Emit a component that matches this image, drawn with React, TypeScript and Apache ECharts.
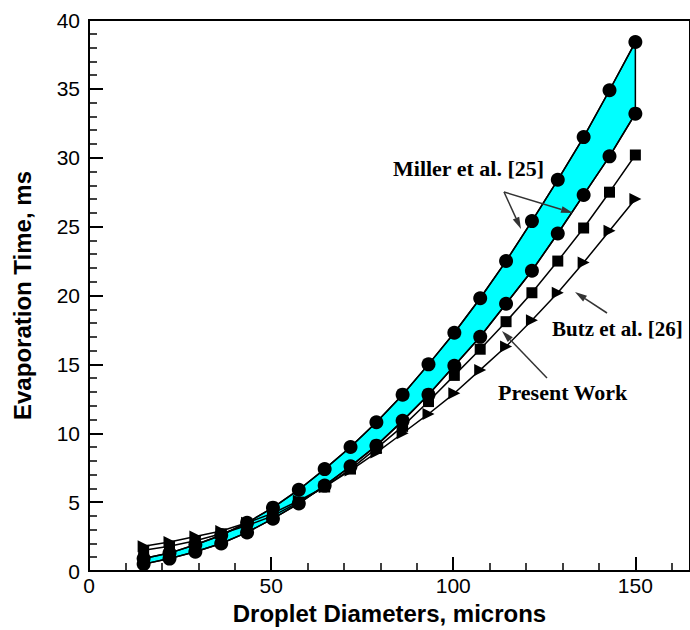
import React, { useEffect, useRef } from "react";
import * as echarts from "echarts";

// Droplet diameters (microns)
const DIAM = [15, 22.1, 29.2, 36.3, 43.4, 50.5, 57.6, 64.7, 71.8, 78.9, 86.1, 93.2, 100.3, 107.4, 114.5, 121.6, 128.7, 135.8, 142.9, 150];
// Evaporation times (ms)
const MILLER_UPPER = [0.9, 1.3, 1.9, 2.6, 3.5, 4.6, 5.9, 7.4, 9.0, 10.8, 12.8, 15.0, 17.3, 19.8, 22.5, 25.4, 28.4, 31.5, 34.9, 38.4];
const MILLER_LOWER = [0.5, 0.9, 1.4, 2.0, 2.8, 3.8, 4.9, 6.2, 7.6, 9.1, 10.9, 12.8, 14.9, 17.0, 19.4, 21.8, 24.5, 27.3, 30.1, 33.2];
const PRESENT_WORK = [1.5, 1.8, 2.2, 2.7, 3.3, 4.0, 5.0, 6.1, 7.4, 8.9, 10.5, 12.3, 14.2, 16.1, 18.1, 20.2, 22.5, 24.9, 27.5, 30.2];
const BUTZ = [1.8, 2.1, 2.5, 2.9, 3.5, 4.2, 5.1, 6.1, 7.3, 8.6, 10.0, 11.4, 12.9, 14.6, 16.3, 18.2, 20.2, 22.4, 24.7, 27.0];

const X_TITLE = "Droplet Diameters, microns";
const Y_TITLE = "Evaporation Time, ms";
const LABEL_MILLER = "Miller et al. [25]";
const LABEL_BUTZ = "Butz et al. [26]";
const LABEL_PRESENT = "Present Work";

const SANS = '"Liberation Sans", Arial, sans-serif';
const SERIF = '"Liberation Serif", "Times New Roman", serif';

function arrow(x1: number, y1: number, x2: number, y2: number) {
  const dx = x2 - x1;
  const dy = y2 - y1;
  const len = Math.sqrt(dx * dx + dy * dy);
  const ux = dx / len;
  const uy = dy / len;
  const hl = 12;
  const hw = 3.5;
  const bx = x2 - ux * hl;
  const by = y2 - uy * hl;
  return [
    {
      type: "line",
      shape: { x1, y1, x2: bx, y2: by },
      style: { stroke: "#333", lineWidth: 1.5 },
      z: 10,
    },
    {
      type: "polygon",
      shape: {
        points: [
          [x2, y2],
          [bx - uy * hw, by + ux * hw],
          [bx + uy * hw, by - ux * hw],
        ],
      },
      style: { fill: "#333" },
      z: 10,
    },
  ];
}

function label(text: string, x: number, y: number, size = 22) {
  return {
    type: "text",
    x,
    y,
    z: 10,
    style: {
      text,
      font: `bold ${size}px ${SERIF}`,
      fill: "#000",
      textAlign: "left",
      textVerticalAlign: "middle",
    },
  };
}

function lineSeries(name: string, values: number[], symbol: string, size: number, rotate = 0) {
  return {
    type: "line",
    name,
    data: DIAM.map((d, i) => [d, values[i]]),
    symbol,
    symbolSize: size,
    symbolRotate: rotate,
    showAllSymbol: true,
    itemStyle: { color: "#000" },
    lineStyle: { color: "#000", width: 1.5 },
    z: 3,
  };
}

export default function App() {
  const ref = useRef<HTMLDivElement>(null);

  useEffect(() => {
    document.body.style.margin = "0";
    const chart = echarts.init(ref.current!, null, { renderer: "svg" });
    const option: any = {
      animation: false,
      backgroundColor: "#fff",
      grid: {
        left: 89,
        top: 20,
        right: -2,
        bottom: 58,
        show: true,
        borderColor: "#000",
        borderWidth: 2,
        backgroundColor: "transparent",
      },
      xAxis: {
        type: "value",
        min: 0,
        max: 165,
        interval: 50,
        name: X_TITLE,
        nameLocation: "middle",
        nameGap: 30,
        nameTextStyle: { fontFamily: SANS, fontWeight: "bold", fontSize: 24, color: "#000" },
        axisLine: { show: true, lineStyle: { color: "#000", width: 2 } },
        axisTick: { show: true, inside: true, length: 14, lineStyle: { color: "#000", width: 2 } },
        minorTick: { show: true, splitNumber: 5, length: 8, lineStyle: { color: "#000", width: 1.5 } },
        axisLabel: { fontFamily: SANS, fontSize: 21, color: "#000", margin: 4, showMaxLabel: false },
        splitLine: { show: false },
      },
      yAxis: {
        type: "value",
        min: 0,
        max: 40,
        interval: 5,
        name: Y_TITLE,
        nameLocation: "middle",
        nameGap: 55,
        nameTextStyle: { fontFamily: SANS, fontWeight: "bold", fontSize: 24, color: "#000" },
        axisLine: { show: true, lineStyle: { color: "#000", width: 2 } },
        axisTick: { show: true, inside: true, length: 14, lineStyle: { color: "#000", width: 2 } },
        minorTick: { show: true, splitNumber: 5, length: 8, lineStyle: { color: "#000", width: 1.5 } },
        axisLabel: { fontFamily: SANS, fontSize: 21, color: "#000", margin: 9 },
        splitLine: { show: false },
      },
      series: [
        {
          type: "custom",
          name: "Miller band",
          data: DIAM.map((d, i) => [d, MILLER_LOWER[i], MILLER_UPPER[i]]),
          encode: { x: 0, y: [1, 2] },
          z: 1,
          renderItem: (params: any, api: any) => {
            if (params.dataIndex !== 0) return null;
            const pts: number[][] = [];
            DIAM.forEach((d, i) => pts.push(api.coord([d, MILLER_UPPER[i]])));
            for (let i = DIAM.length - 1; i >= 0; i--) pts.push(api.coord([DIAM[i], MILLER_LOWER[i]]));
            return {
              type: "polygon",
              shape: { points: pts },
              style: { fill: "#00FFFF", stroke: "#000", lineWidth: 1.5 },
            };
          },
        },
        lineSeries("Miller et al. [25] upper", MILLER_UPPER, "circle", 14),
        lineSeries("Miller et al. [25] lower", MILLER_LOWER, "circle", 14),
        lineSeries("Present Work", PRESENT_WORK, "rect", 11),
        lineSeries("Butz et al. [26]", BUTZ, "triangle", 12, -90),
      ],
      graphic: [
        label(LABEL_MILLER, 393, 168),
        label(LABEL_BUTZ, 552, 329, 21),
        label(LABEL_PRESENT, 498, 392),
        ...arrow(504, 192, 521, 229),
        ...arrow(504, 192, 573, 213),
        ...arrow(607, 313, 575, 292),
        ...arrow(547, 378, 502, 331),
      ],
    };
    chart.setOption(option);
    return () => chart.dispose();
  }, []);

  return (
    <div
      ref={ref}
      style={{ position: "fixed", left: 0, top: 0, width: 690, height: 630 }}
    />
  );
}
